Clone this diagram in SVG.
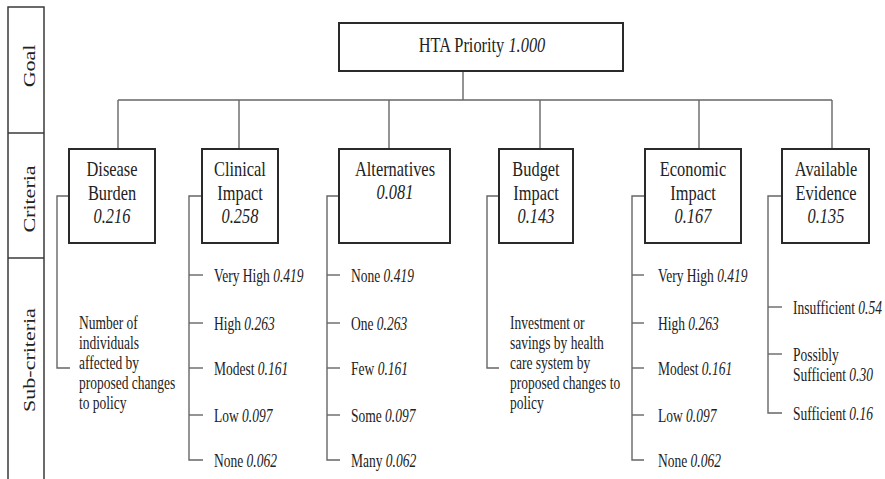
<svg xmlns="http://www.w3.org/2000/svg" width="885" height="479" viewBox="0 0 885 479">
  <style>
    .t { font-family: "Liberation Serif", "Times New Roman", serif; fill: #222; }
    .big { font-size: 21px; }
    .sm { font-size: 18.5px; }
    .lvl { font-size: 22px; }
    .i { font-style: italic; }
    .box { fill: #fff; stroke: #2a2a2a; stroke-width: 2; }
    .band { fill: none; stroke: #3a3a3a; stroke-width: 1.5; }
    .ln { fill: none; stroke: #666; stroke-width: 1.4; }
  </style>

  <!-- level band on the left -->
  <g id="levels">
    <rect class="band" x="8" y="7" width="36" height="490"/>
    <line class="band" x1="8" y1="133" x2="44" y2="133"/>
    <line class="band" x1="8" y1="258" x2="44" y2="258"/>
    <text class="t lvl" text-anchor="middle" transform="translate(35 66) rotate(-90) scale(1 0.8)">Goal</text>
    <text class="t lvl" text-anchor="middle" transform="translate(35 199) rotate(-90) scale(1 0.8)">Criteria</text>
    <text class="t lvl" text-anchor="middle" transform="translate(35 360) rotate(-90) scale(1 0.8)">Sub-criteria</text>
  </g>

  <!-- connectors -->
  <g id="connectors">
    <line class="ln" x1="463" y1="71" x2="463" y2="100"/>
    <line class="ln" x1="118" y1="100" x2="832" y2="100"/>
    <line class="ln" x1="118" y1="100" x2="118" y2="149"/>
    <line class="ln" x1="239" y1="100" x2="239" y2="149"/>
    <line class="ln" x1="389" y1="100" x2="389" y2="149"/>
    <line class="ln" x1="540" y1="100" x2="540" y2="149"/>
    <line class="ln" x1="699" y1="100" x2="699" y2="149"/>
    <line class="ln" x1="832" y1="100" x2="832" y2="149"/>

    <!-- Disease Burden bracket -->
    <polyline class="ln" points="69,196 57,196 57,368 70,368"/>
    <!-- Clinical Impact list -->
    <polyline class="ln" points="202,196 189,196 189,460 203,460"/>
    <line class="ln" x1="189" y1="275" x2="203" y2="275"/>
    <line class="ln" x1="189" y1="323" x2="203" y2="323"/>
    <line class="ln" x1="189" y1="368" x2="203" y2="368"/>
    <line class="ln" x1="189" y1="415" x2="203" y2="415"/>
    <!-- Alternatives list -->
    <polyline class="ln" points="339,196 327,196 327,460 340,460"/>
    <line class="ln" x1="327" y1="275" x2="340" y2="275"/>
    <line class="ln" x1="327" y1="323" x2="340" y2="323"/>
    <line class="ln" x1="327" y1="368" x2="340" y2="368"/>
    <line class="ln" x1="327" y1="415" x2="340" y2="415"/>
    <!-- Budget Impact bracket -->
    <polyline class="ln" points="499,196 487,196 487,368 499,368"/>
    <!-- Economic Impact list -->
    <polyline class="ln" points="645,196 632,196 632,460 644,460"/>
    <line class="ln" x1="632" y1="275" x2="644" y2="275"/>
    <line class="ln" x1="632" y1="323" x2="644" y2="323"/>
    <line class="ln" x1="632" y1="368" x2="644" y2="368"/>
    <line class="ln" x1="632" y1="415" x2="644" y2="415"/>
    <!-- Available Evidence list -->
    <polyline class="ln" points="782,196 768,196 768,413 782,413"/>
    <line class="ln" x1="768" y1="307" x2="782" y2="307"/>
    <line class="ln" x1="768" y1="354" x2="782" y2="354"/>
  </g>

  <!-- goal -->
  <g id="goal">
    <rect class="box" x="339" y="23" width="284" height="48"/>
    <text class="t big" text-anchor="middle" transform="translate(482 51.5) scale(0.78 1)">HTA Priority <tspan class="i">1.000</tspan></text>
  </g>

  <!-- criteria -->
  <g id="disease-burden">
    <rect class="box" x="69" y="149" width="86" height="94"/>
    <text class="t big" text-anchor="middle" transform="translate(112 176) scale(0.78 1)"><tspan x="0">Disease</tspan><tspan x="0" dy="23.7">Burden</tspan><tspan x="0" dy="23.7" class="i">0.216</tspan></text>
  </g>
  <g id="clinical-impact">
    <rect class="box" x="202" y="149" width="76" height="94"/>
    <text class="t big" text-anchor="middle" transform="translate(240 176) scale(0.78 1)"><tspan x="0">Clinical</tspan><tspan x="0" dy="23.7">Impact</tspan><tspan x="0" dy="23.7" class="i">0.258</tspan></text>
  </g>
  <g id="alternatives">
    <rect class="box" x="339" y="149" width="111" height="94"/>
    <text class="t big" text-anchor="middle" transform="translate(395 175.5) scale(0.78 1)"><tspan x="0">Alternatives</tspan><tspan x="0" dy="23.7" class="i">0.081</tspan></text>
  </g>
  <g id="budget-impact">
    <rect class="box" x="499" y="149" width="74" height="94"/>
    <text class="t big" text-anchor="middle" transform="translate(536 176) scale(0.78 1)"><tspan x="0">Budget</tspan><tspan x="0" dy="23.7">Impact</tspan><tspan x="0" dy="23.7" class="i">0.143</tspan></text>
  </g>
  <g id="economic-impact">
    <rect class="box" x="645" y="149" width="96" height="94"/>
    <text class="t big" text-anchor="middle" transform="translate(693 176) scale(0.78 1)"><tspan x="0">Economic</tspan><tspan x="0" dy="23.7">Impact</tspan><tspan x="0" dy="23.7" class="i">0.167</tspan></text>
  </g>
  <g id="available-evidence">
    <rect class="box" x="782" y="149" width="87" height="94"/>
    <text class="t big" text-anchor="middle" transform="translate(826 176) scale(0.78 1)"><tspan x="0">Available</tspan><tspan x="0" dy="23.7">Evidence</tspan><tspan x="0" dy="23.7" class="i">0.135</tspan></text>
  </g>

  <!-- sub-criteria -->
  <g id="disease-burden-sub">
    <text class="t sm" transform="translate(79 329) scale(0.73 1)"><tspan x="0">Number of</tspan><tspan x="0" dy="20.1">individuals</tspan><tspan x="0" dy="20.1">affected by</tspan><tspan x="0" dy="20.1">proposed changes</tspan><tspan x="0" dy="20.1">to policy</tspan></text>
  </g>
  <g id="clinical-impact-sub">
    <text class="t sm" transform="translate(214 281.5) scale(0.73 1)">Very High <tspan class="i">0.419</tspan></text>
    <text class="t sm" transform="translate(214 330) scale(0.73 1)">High <tspan class="i">0.263</tspan></text>
    <text class="t sm" transform="translate(214 375) scale(0.73 1)">Modest <tspan class="i">0.161</tspan></text>
    <text class="t sm" transform="translate(214 421.5) scale(0.73 1)">Low <tspan class="i">0.097</tspan></text>
    <text class="t sm" transform="translate(214 466.5) scale(0.73 1)">None <tspan class="i">0.062</tspan></text>
  </g>
  <g id="alternatives-sub">
    <text class="t sm" transform="translate(351 281.5) scale(0.73 1)">None <tspan class="i">0.419</tspan></text>
    <text class="t sm" transform="translate(351 330) scale(0.73 1)">One <tspan class="i">0.263</tspan></text>
    <text class="t sm" transform="translate(351 375) scale(0.73 1)">Few <tspan class="i">0.161</tspan></text>
    <text class="t sm" transform="translate(351 421.5) scale(0.73 1)">Some <tspan class="i">0.097</tspan></text>
    <text class="t sm" transform="translate(351 466.5) scale(0.73 1)">Many <tspan class="i">0.062</tspan></text>
  </g>
  <g id="budget-impact-sub">
    <text class="t sm" transform="translate(510 329) scale(0.73 1)"><tspan x="0">Investment or</tspan><tspan x="0" dy="20.1">savings by health</tspan><tspan x="0" dy="20.1">care system by</tspan><tspan x="0" dy="20.1">proposed changes to</tspan><tspan x="0" dy="20.1">policy</tspan></text>
  </g>
  <g id="economic-impact-sub">
    <text class="t sm" transform="translate(658 281.5) scale(0.73 1)">Very High <tspan class="i">0.419</tspan></text>
    <text class="t sm" transform="translate(658 330) scale(0.73 1)">High <tspan class="i">0.263</tspan></text>
    <text class="t sm" transform="translate(658 375) scale(0.73 1)">Modest <tspan class="i">0.161</tspan></text>
    <text class="t sm" transform="translate(658 421.5) scale(0.73 1)">Low <tspan class="i">0.097</tspan></text>
    <text class="t sm" transform="translate(658 466.5) scale(0.73 1)">None <tspan class="i">0.062</tspan></text>
  </g>
  <g id="available-evidence-sub">
    <text class="t sm" transform="translate(793 314) scale(0.73 1)">Insufficient <tspan class="i">0.54</tspan></text>
    <text class="t sm" transform="translate(793 361) scale(0.73 1)"><tspan x="0">Possibly</tspan><tspan x="0" dy="20">Sufficient <tspan class="i">0.30</tspan></tspan></text>
    <text class="t sm" transform="translate(793 420) scale(0.73 1)">Sufficient <tspan class="i">0.16</tspan></text>
  </g>
</svg>
